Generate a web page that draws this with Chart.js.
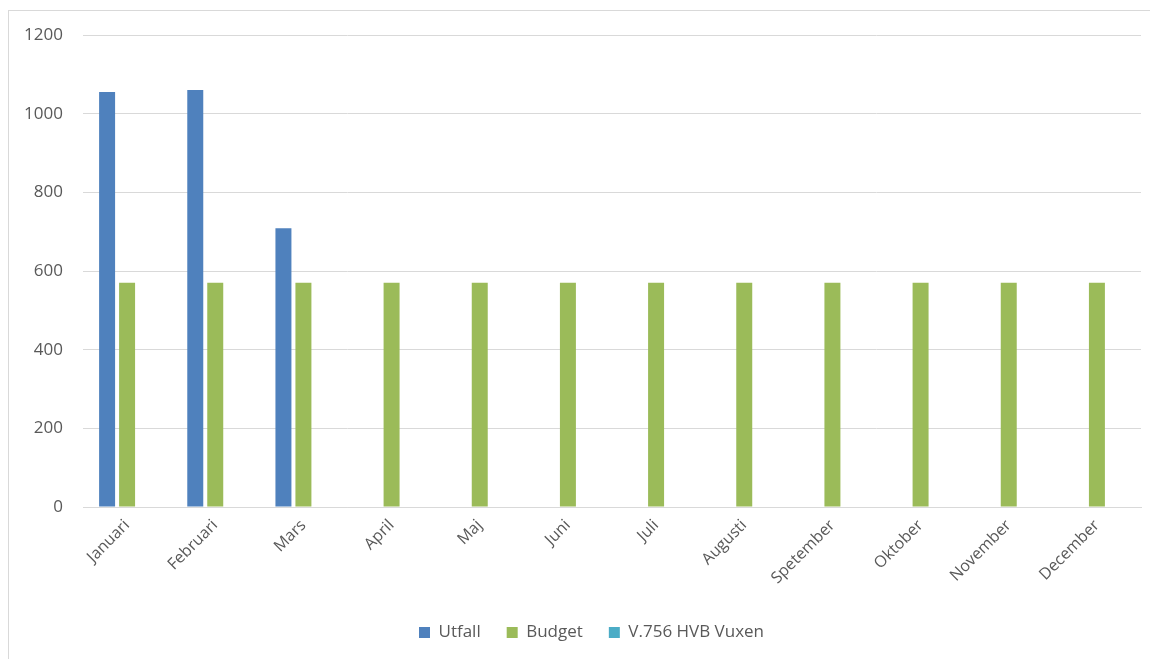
<!DOCTYPE html>
<html>
<head>
<meta charset="utf-8">
<script src="https://cdn.jsdelivr.net/npm/chart.js@4/dist/chart.umd.min.js"></script>
<style>
  html, body { margin: 0; padding: 0; background: #fff; }
  #wrap { position: relative; width: 1150px; height: 659px; overflow: hidden; }
  #frame { position: absolute; left: 8px; top: 10px; width: 1160px; height: 670px; border: 1px solid #d9d9d9; box-sizing: border-box; }
  #chart { position: absolute; left: 0; top: 0; }
</style>
</head>
<body>
<div id="wrap">
  <div id="frame"></div>
  <canvas id="chart" width="1150" height="659"></canvas>
</div>
<script>
// months (note: "Spetember" is spelled like that in the source chart)
const months = ["Januari", "Februari", "Mars", "April", "Maj", "Juni", "Juli",
  "Augusti", "Spetember", "Oktober", "November", "December"];

const utfall = [1055, 1060, 709, null, null, null, null, null, null, null, null, null];
const budget = [570, 570, 570, 570, 570, 570, 570, 570, 570, 570, 570, 570];
const hvbVuxen = [null, null, null, null, null, null, null, null, null, null, null, null];

const seriesNames = ["Utfall", "Budget", "V.756 HVB Vuxen"];
const seriesColors = ["#4f81bd", "#9bbb59", "#4bacc6"];

const yTicks = { min: 0, max: 1200, step: 200 };

const textColor = "#595959";
const gridColor = "#d9d9d9";
const fontFamily = "'Open Sans', sans-serif";

function makeDataset(label, data, color) {
  return {
    label: label,
    data: data,
    backgroundColor: color,
    borderWidth: 0,
    categoryPercentage: 0.68,
    barPercentage: 0.8,
  };
}

// legend in the original sits a bit right of the canvas centre
const legendShift = {
  id: "legendShift",
  afterLayout(chart) {
    chart.legend.left += 21;
    chart.legend.right += 21;
  },
};

const canvas = document.getElementById("chart");
const ctx = canvas.getContext("2d");

canvas.chart = new Chart(ctx, {
  type: "bar",
  data: {
    labels: months,
    datasets: [
      makeDataset(seriesNames[0], utfall, seriesColors[0]),
      makeDataset(seriesNames[1], budget, seriesColors[1]),
      makeDataset(seriesNames[2], hvbVuxen, seriesColors[2]),
    ],
  },
  plugins: [legendShift],
  options: {
    responsive: false,
    animation: false,
    layout: {
      padding: { top: 35, right: 9, left: 0, bottom: 8 },
    },
    plugins: {
      tooltip: { enabled: false },
      legend: {
        position: "bottom",
        labels: {
          boxWidth: 11,
          boxHeight: 11,
          padding: 26,
          color: textColor,
          font: { family: fontFamily, size: 17 },
        },
      },
    },
    scales: {
      x: {
        grid: { display: false },
        border: { display: true, color: gridColor, width: 1 },
        ticks: {
          autoSkip: false,
          minRotation: 45,
          maxRotation: 45,
          padding: 1,
          color: textColor,
          font: { family: fontFamily, size: 16 },
        },
        afterFit: (scale) => {
          scale.height = 91;
        },
      },
      y: {
        min: yTicks.min,
        max: yTicks.max,
        grid: { color: gridColor, drawTicks: false },
        border: { display: false },
        ticks: {
          stepSize: yTicks.step,
          padding: 20,
          color: textColor,
          font: { family: fontFamily, size: 17 },
          callback: (value) => String(value), // no thousands separator
        },
        afterFit: (scale) => {
          scale.width = 83;
        },
      },
    },
  },
});
</script>
</body>
</html>
